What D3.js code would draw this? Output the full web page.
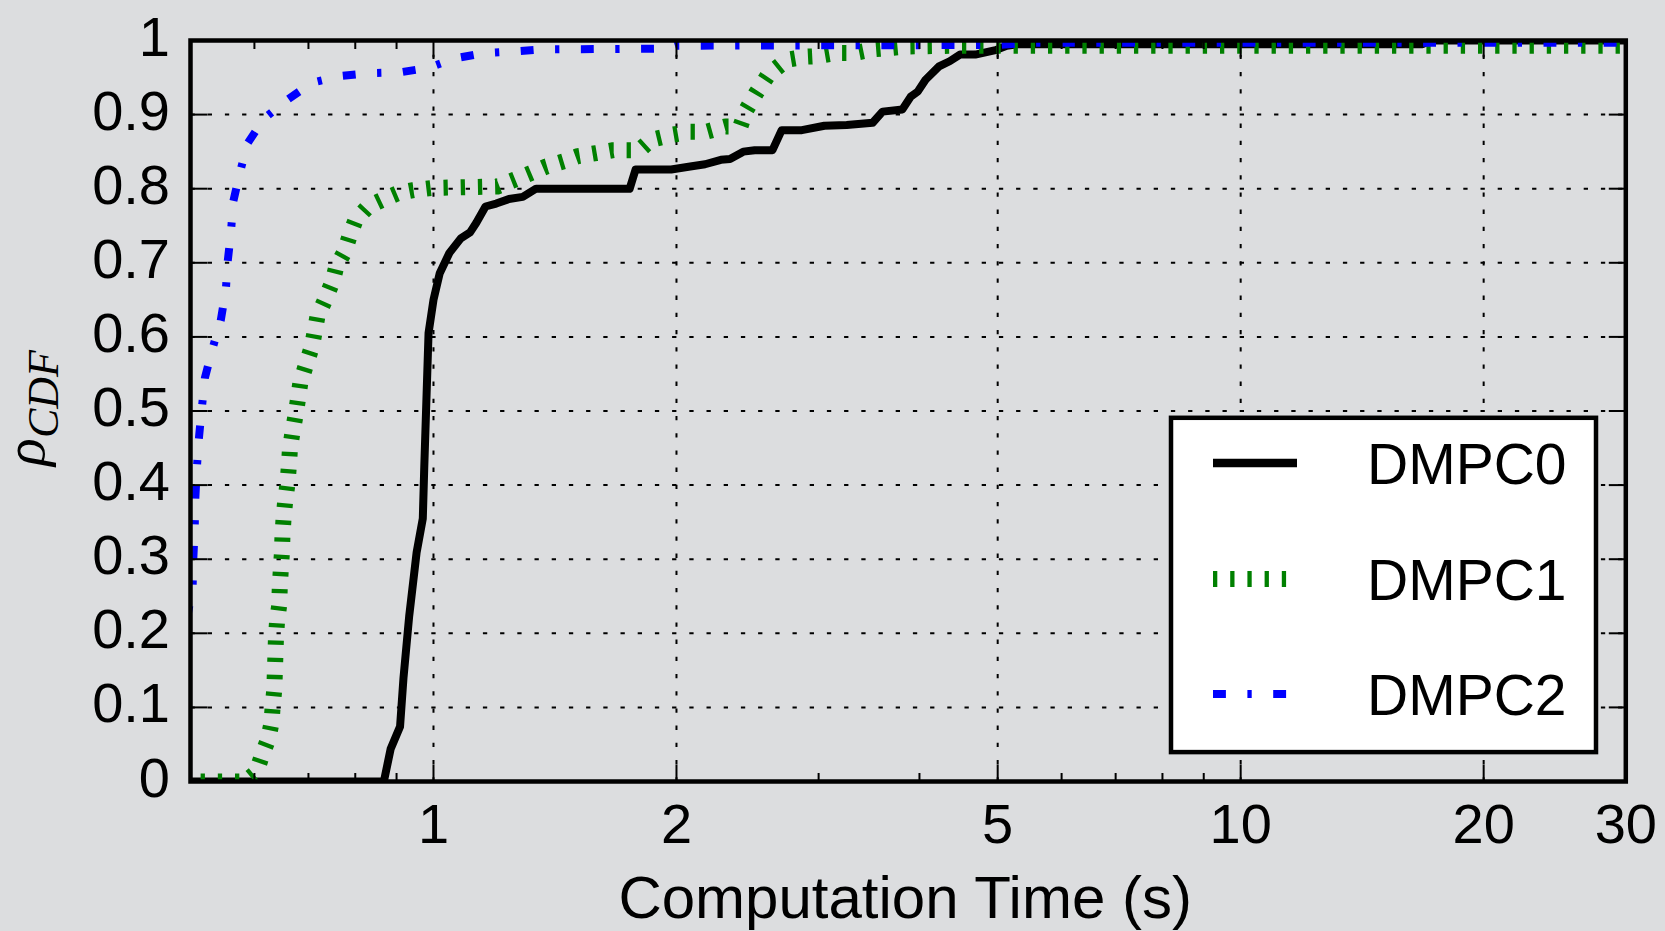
<!DOCTYPE html>
<html>
<head>
<meta charset="utf-8">
<script src="https://cdn.jsdelivr.net/npm/d3@7/dist/d3.min.js"></script>
<style>
  html, body { margin: 0; padding: 0; background: #dcdddf; }
  svg { display: block; }
  text { font-family: "Liberation Sans", Arial, Helvetica, sans-serif; fill: #000; }
</style>
</head>
<body>
<svg id="chart"></svg>
<script>
// CDF of computation time
const dmpc0Time = [0.49, 0.868, 0.885, 0.909, 0.918, 0.933, 0.953, 0.97, 0.974, 0.98, 0.986, 1.0, 1.018, 1.046, 1.081, 1.11, 1.13, 1.16, 1.196, 1.24, 1.29, 1.34, 1.75, 1.78, 1.97, 2.08, 2.17, 2.27, 2.33, 2.42, 2.5, 2.63, 2.70, 2.86, 3.05, 3.25, 3.5, 3.6, 3.81, 3.90, 3.98, 4.07, 4.23, 4.36, 4.49, 4.69, 4.97, 5.13, 5.3, 16.8, 17.2, 31];
const dmpc0Cdf  = [0, 0, 0.044, 0.074, 0.14, 0.223, 0.309, 0.355, 0.424, 0.515, 0.605, 0.65, 0.686, 0.713, 0.733, 0.741, 0.754, 0.776, 0.78, 0.786, 0.789, 0.80, 0.80, 0.826, 0.826, 0.83, 0.833, 0.839, 0.84, 0.85, 0.852, 0.852, 0.879, 0.879, 0.885, 0.886, 0.889, 0.904, 0.907, 0.924, 0.931, 0.947, 0.965, 0.972, 0.981, 0.981, 0.987, 0.993, 0.995, 0.995, 1.0, 1.0];

const dmpc1Time = [0.49, 0.585, 0.603, 0.613, 0.624, 0.630, 0.632, 0.635, 0.636, 0.637, 0.638, 0.64, 0.644, 0.645, 0.647, 0.649, 0.65, 0.652, 0.655, 0.659, 0.662, 0.664, 0.669, 0.675, 0.684, 0.695, 0.707, 0.718, 0.734, 0.75, 0.758, 0.776, 0.788, 0.801, 0.83, 0.864, 0.904, 0.944, 0.995, 1.2, 1.26, 1.32, 1.38, 1.45, 1.51, 1.59, 1.67, 1.80, 1.86, 1.98, 2.08, 2.18, 2.30, 2.40, 2.44, 2.51, 2.6, 2.74, 2.88, 3.0, 3.15, 3.32, 3.5, 3.69, 3.86, 4.5, 31];
const dmpc1Cdf  = [0, 0, 0.012, 0.035, 0.057, 0.079, 0.101, 0.124, 0.147, 0.17, 0.193, 0.216, 0.238, 0.262, 0.287, 0.309, 0.332, 0.355, 0.378, 0.40, 0.426, 0.449, 0.472, 0.495, 0.538, 0.562, 0.587, 0.627, 0.65, 0.675, 0.695, 0.715, 0.738, 0.758, 0.776, 0.785, 0.794, 0.798, 0.801, 0.803, 0.812, 0.821, 0.83, 0.837, 0.844, 0.848, 0.852, 0.852, 0.866, 0.873, 0.877, 0.877, 0.884, 0.884, 0.906, 0.929, 0.954, 0.974, 0.978, 0.979, 0.983, 0.983, 0.988, 0.99, 0.992, 0.993, 0.993];

const dmpc2Time = [0.495, 0.503, 0.504, 0.506, 0.507, 0.509, 0.512, 0.516, 0.521, 0.532, 0.545, 0.553, 0.556, 0.561, 0.565, 0.576, 0.589, 0.617, 0.659, 0.707, 0.767, 0.835, 0.908, 0.986, 1.064, 1.155, 1.25, 1.37, 1.95, 2.0, 5.0, 5.5, 31];
const dmpc2Cdf  = [0.22, 0.261, 0.30, 0.341, 0.383, 0.421, 0.462, 0.50, 0.545, 0.583, 0.622, 0.663, 0.702, 0.74, 0.783, 0.823, 0.862, 0.895, 0.92, 0.943, 0.952, 0.956, 0.957, 0.963, 0.976, 0.983, 0.985, 0.988, 0.989, 0.993, 0.994, 0.997, 0.997];

const seriesNames = ["DMPC0", "DMPC1", "DMPC2"];
const xTicks = [1, 2, 5, 10, 20, 30];
const xTickLabels = ["1", "2", "5", "10", "20", "30"];
const xMinorTicks = [0.6, 0.7, 0.8, 0.9, 3, 4, 6, 7, 8, 9];
const yTicks = [0, 0.1, 0.2, 0.3, 0.4, 0.5, 0.6, 0.7, 0.8, 0.9, 1];
const yTickLabels = ["0", "0.1", "0.2", "0.3", "0.4", "0.5", "0.6", "0.7", "0.8", "0.9", "1"];

const width = 1665, height = 931;
const plotLeft = 190.5, plotRight = 1625.8, plotTop = 40.5, plotBottom = 781.5;

const svg = d3.select("#chart").attr("width", width).attr("height", height);
svg.append("rect").attr("width", width).attr("height", height).attr("fill", "#dcdddf");

const x = d3.scaleLog().domain([0.5, 30]).range([plotLeft, plotRight]);
const y = d3.scaleLinear().domain([0, 1]).range([plotBottom, plotTop]);

// grid
const grid = svg.append("g").attr("stroke", "#000").attr("stroke-width", 2).attr("stroke-dasharray", "4.3 12.9");
grid.selectAll(".gy").data(yTicks.slice(1, -1)).join("line")
  .attr("x1", plotLeft).attr("x2", plotRight).attr("y1", d => y(d)).attr("y2", d => y(d));
grid.selectAll(".gx").data(xTicks.slice(0, -1)).join("line")
  .attr("x1", d => x(d)).attr("x2", d => x(d)).attr("y1", plotBottom).attr("y2", plotTop);

// curves
svg.append("clipPath").attr("id", "plotclip").append("rect")
  .attr("x", plotLeft).attr("y", plotTop).attr("width", plotRight - plotLeft).attr("height", plotBottom - plotTop);

const styles = [
  { color: "#000000", width: 8, dash: null, cap: "square" },
  { color: "#008000", width: 16, dash: "4.3 12.9", cap: "butt" },
  { color: "#0000ff", width: 8, dash: "12.9 21.5 4.3 21.5", cap: "butt" }
];
const series = [
  d3.zip(dmpc0Time, dmpc0Cdf),
  d3.zip(dmpc1Time, dmpc1Cdf),
  d3.zip(dmpc2Time, dmpc2Cdf)
];
const line = d3.line().x(d => x(d[0])).y(d => y(d[1]));

const curves = svg.append("g").attr("clip-path", "url(#plotclip)");
series.forEach((s, i) => {
  curves.append("path")
    .attr("d", line(s))
    .attr("fill", "none")
    .attr("stroke", styles[i].color)
    .attr("stroke-width", styles[i].width)
    .attr("stroke-dasharray", styles[i].dash)
    .attr("stroke-linecap", styles[i].cap)
    .attr("stroke-linejoin", "round");
});

// frame + inward ticks on all four sides
const ticks = svg.append("g").attr("stroke", "#000").attr("stroke-width", 2);
const major = 17, minor = 8.5;
yTicks.forEach(t => {
  ticks.append("line").attr("x1", plotLeft).attr("x2", plotLeft + major).attr("y1", y(t)).attr("y2", y(t));
  ticks.append("line").attr("x1", plotRight).attr("x2", plotRight - major).attr("y1", y(t)).attr("y2", y(t));
});
xTicks.forEach(t => {
  ticks.append("line").attr("x1", x(t)).attr("x2", x(t)).attr("y1", plotBottom).attr("y2", plotBottom - major);
  ticks.append("line").attr("x1", x(t)).attr("x2", x(t)).attr("y1", plotTop).attr("y2", plotTop + major);
});
xMinorTicks.forEach(t => {
  ticks.append("line").attr("x1", x(t)).attr("x2", x(t)).attr("y1", plotBottom).attr("y2", plotBottom - minor);
  ticks.append("line").attr("x1", x(t)).attr("x2", x(t)).attr("y1", plotTop).attr("y2", plotTop + minor);
});

svg.append("rect")
  .attr("x", plotLeft).attr("y", plotTop).attr("width", plotRight - plotLeft).attr("height", plotBottom - plotTop)
  .attr("fill", "none").attr("stroke", "#000").attr("stroke-width", 4.5);

// tick labels
svg.append("g").selectAll("text").data(yTicks).join("text")
  .attr("x", 170).attr("y", d => y(d) + 15)
  .attr("text-anchor", "end").attr("font-size", 56)
  .text((d, i) => yTickLabels[i]);

svg.append("g").selectAll("text").data(xTicks).join("text")
  .attr("x", d => x(d)).attr("y", 843)
  .attr("text-anchor", "middle").attr("font-size", 56)
  .text((d, i) => xTickLabels[i]);

// axis titles
svg.append("text")
  .attr("x", (plotLeft + plotRight) / 2 - 3).attr("y", 918)
  .attr("text-anchor", "middle").attr("font-size", 60)
  .text("Computation Time (s)");

const ylab = svg.append("text")
  .attr("transform", "translate(44,408) rotate(-90)")
  .attr("text-anchor", "middle")
  .style("font-family", "'Liberation Serif', 'DejaVu Serif', serif")
  .style("font-style", "italic");
ylab.append("tspan").attr("font-size", 58).text("ρ");
ylab.append("tspan").attr("font-size", 44).attr("dy", 14).text("CDF");

// legend
const legend = svg.append("g");
legend.append("rect")
  .attr("x", 1171).attr("y", 417.8).attr("width", 1596 - 1171).attr("height", 752.1 - 417.8)
  .attr("fill", "#fff").attr("stroke", "#000").attr("stroke-width", 4.5);
const rowY = [463, 579, 694];
seriesNames.forEach((name, i) => {
  legend.append("line")
    .attr("x1", 1213).attr("x2", i === 0 ? 1297 : 1299).attr("y1", rowY[i]).attr("y2", rowY[i])
    .attr("stroke", styles[i].color)
    .attr("stroke-width", i === 0 ? 8.5 : styles[i].width)
    .attr("stroke-dasharray", styles[i].dash)
    .attr("stroke-linecap", "butt");
  legend.append("text")
    .attr("x", 1367).attr("y", rowY[i] + 21)
    .attr("font-size", 57)
    .text(name);
});
</script>
</body>
</html>
